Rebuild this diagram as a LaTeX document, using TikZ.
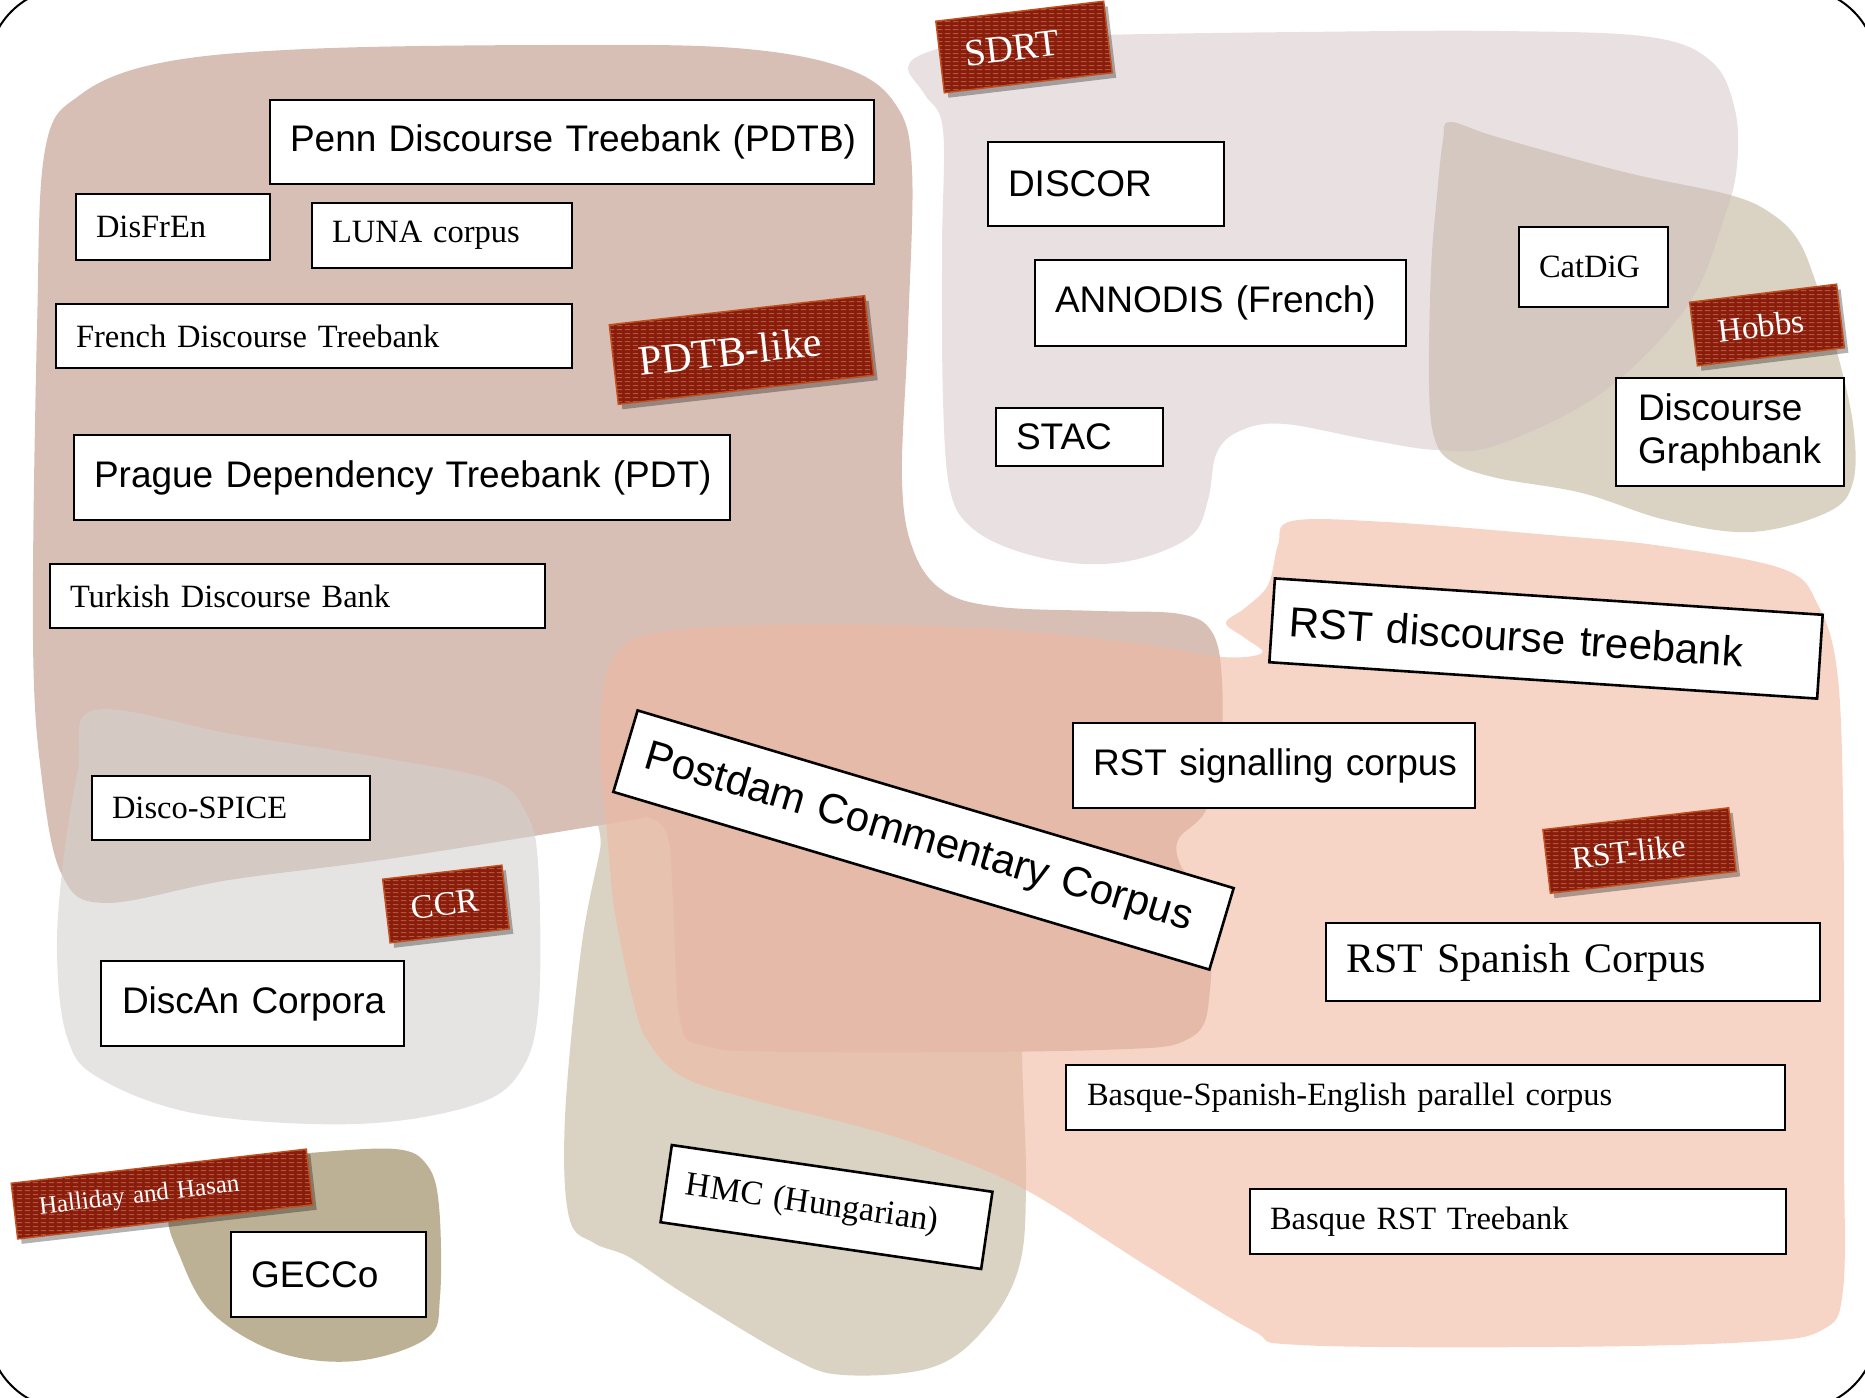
\documentclass[tikz,border=0pt]{standalone}
\usepackage{fontspec}
\setmainfont{Liberation Serif}
\newfontfamily\sansf{Liberation Sans}
\usetikzlibrary{shadows,patterns}
\pgfdeclarepatternformonly{weave}{\pgfqpoint{0pt}{0pt}}{\pgfqpoint{8pt}{3.5pt}}{\pgfqpoint{8pt}{3.5pt}}{%
  \pgfpathrectangle{\pgfqpoint{1pt}{1pt}}{\pgfqpoint{6pt}{1.1pt}}\pgfusepath{fill}}
\definecolor{brownb}{HTML}{D8BFB6}
\definecolor{sdrtc}{HTML}{D1BDBF}
\definecolor{beigec}{HTML}{DAD3C4}
\definecolor{greyc}{HTML}{D3D1CE}
\definecolor{tanc}{HTML}{BCB195}
\definecolor{salmonc}{HTML}{F0B8A0}
\definecolor{tagred}{HTML}{8A1C0C}
\definecolor{tagedge}{HTML}{C0501E}
\definecolor{tagdash}{HTML}{B0563E}
\newcommand\myfs[1]{\fontsize{#1pt}{#1pt}\selectfont}
\tikzset{
  blob/.style={smooth cycle, tension=0.6},
  wbox/.style={draw=black, line width=2.6pt, fill=white, inner ysep=0pt, inner xsep=20pt, align=left},
  sbox/.style={wbox, font=\sansf\myfs{37}},
  rbox/.style={wbox, font=\myfs{32.5}},
  tag/.style={fill=tagred, draw=tagedge, line width=1.5pt, text=white, align=left,
    inner ysep=0pt, inner xsep=25pt,
    drop shadow={shadow xshift=4pt, shadow yshift=-5pt, opacity=0.3, fill=black},
    postaction={pattern=weave, pattern color=tagdash}}
}
\begin{document}
\begin{tikzpicture}[x=1pt,y=-1pt]
\useasboundingbox (0,0) rectangle (1865,1397);
% regions
\fill[beigec] plot[blob] coordinates {(612,790) (800,785) (1000,790) (1020,830) (1022,1050) (1026,1183) (1019,1267) (986,1327) (933,1367) (844,1375) (790,1357) (683,1293) (629,1257) (594,1243) (569,1217) (565,1117) (581,950) (600,850)};
\fill[beigec] plot[blob] coordinates {(1450,122) (1497,137) (1624,172) (1730,195) (1772,214) (1798,240) (1815,280) (1836,348) (1853,424) (1853,482) (1828,512) (1751,532) (1666,520) (1582,493) (1497,478) (1454,463) (1435,440) (1429,386) (1431,271) (1437,195) (1443,140)};
\fill[sdrtc, fill opacity=0.47] plot[blob] coordinates {(943,130) (925,95) (908,68) (928,52) (985,40) (1100,35) (1300,32) (1500,31) (1650,37) (1712,62) (1735,110) (1737,165) (1725,215) (1688,305) (1603,392) (1497,445) (1437,450) (1370,440) (1285,424) (1242,430) (1217,452) (1208,500) (1192,535) (1142,558) (1084,564) (1020,552) (972,528) (950,490) (943,400) (942,250)};
\fill[brownb] plot[blob] coordinates {(45,150) (80,95) (160,63) (306,49) (551,45) (735,48) (845,68) (896,105) (912,170) (908,330) (902,480) (914,552) (945,592) (1000,607) (1100,611) (1180,614) (1212,632) (1222,680) (1220,760) (1205,812) (1178,840) (1182,868) (1207,900) (1210,990) (1190,1038) (1100,1050) (800,1052) (705,1046) (680,1020) (673,900) (668,838) (650,818) (620,822) (395,858) (229,880) (105,903) (62,875) (42,780) (33,640) (37,330)};
\fill[greyc, fill opacity=0.59] plot[blob] coordinates {(95,710) (237,735) (395,760) (494,781) (526,813) (538,863) (539,1000) (522,1069) (474,1105) (356,1124) (198,1114) (99,1078) (67,1037) (57,954) (63,863) (78,770)};
\fill[tanc] plot[blob] coordinates {(180,1175) (250,1158) (308,1153) (395,1149) (427,1165) (439,1206) (440,1297) (427,1338) (356,1361) (277,1352) (210,1311) (178,1252) (168,1215)};
\fill[salmonc, fill opacity=0.6] plot[blob] coordinates {(1226,623) (1245,608) (1268,585) (1278,545) (1292,521) (1386,522) (1550,535) (1662,546) (1783,569) (1818,605) (1837,670) (1843,800) (1844,1000) (1844,1150) (1843,1290) (1822,1330) (1750,1342) (1552,1347) (1300,1345) (1252,1330) (1150,1268) (1026,1190) (933,1150) (861,1127) (754,1100) (683,1077) (647,1040) (633,1000) (622,950) (613,900) (606,822) (600,759) (603,690) (618,652) (660,632) (802,624) (996,629) (1142,644) (1222,657) (1262,653) (1245,638)};
% frame
\draw[line width=2pt, rounded corners=80pt] (-12,-12) rectangle (1877,1409);
% sans boxes
\node[sbox, minimum height=84pt, text width=564pt] (penn) at (572,142) {\mbox{Penn Discourse Treebank (PDTB)}};
\node[sbox, minimum height=85pt, text width=616pt] (prague) at (402,477.5) {\mbox{Prague Dependency Treebank (PDT)}};
\node[sbox, minimum height=84pt, text width=196pt] (discor) at (1106,184) {\mbox{DISCOR}};
\node[sbox, minimum height=86pt, text width=331pt] (annodis) at (1220.5,303) {\mbox{ANNODIS (French)}};
\node[sbox, minimum height=58pt, text width=127pt] (stac) at (1079.5,437) {\mbox{STAC}};
\node[sbox, minimum height=108pt, inner xsep=22pt, text width=184pt, font=\sansf\fontsize{37pt}{43pt}\selectfont] (graph) at (1730,432) {\mbox{Discourse}\\\mbox{Graphbank}};
\node[sbox, minimum height=85pt, text width=362pt] (signal) at (1274,765.5) {\mbox{RST signalling corpus}};
\node[sbox, minimum height=85pt, inner xsep=21pt, text width=261pt] (discan) at (252.5,1003.5) {\mbox{DiscAn Corpora}};
\node[sbox, minimum height=85pt, text width=155pt] (gecco) at (328.5,1274.5) {\mbox{GECCo}};
\node[sbox, minimum height=84pt, inner xsep=17pt, text width=515pt, rotate=-3.8, font=\sansf\myfs{42}] (rstdt) at (1546,638.5) {\mbox{RST discourse treebank}};
\node[sbox, minimum height=85pt, inner xsep=21pt, text width=580pt, rotate=-16.6, font=\sansf\myfs{42}] (pcc) at (923.5,840) {\mbox{Postdam Commentary Corpus}};
% serif boxes
\node[rbox, minimum height=66pt, text width=154pt] (disfren) at (173,227) {\mbox{DisFrEn}};
\node[rbox, minimum height=65pt, text width=220pt] (luna) at (442,235.5) {\mbox{LUNA corpus}};
\node[rbox, minimum height=64pt, text width=476pt] (fdtb) at (314,336) {\mbox{French Discourse Treebank}};
\node[rbox, minimum height=64pt, text width=455pt] (tdb) at (297.5,596) {\mbox{Turkish Discourse Bank}};
\node[rbox, minimum height=64pt, text width=238pt] (spice) at (231,808) {\mbox{Disco-SPICE}};
\node[rbox, minimum height=80pt, text width=109pt] (catdig) at (1593.5,267) {\mbox{CatDiG}};
\node[rbox, minimum height=78pt, text width=454pt, font=\myfs{42}] (rstsp) at (1573,962) {\mbox{RST Spanish Corpus}};
\node[rbox, minimum height=65pt, inner xsep=21pt, text width=677pt] (bse) at (1425.5,1097.5) {\mbox{Basque-Spanish-English parallel corpus}};
\node[rbox, minimum height=65pt, text width=496pt] (brst) at (1518,1221.5) {\mbox{Basque RST Treebank}};
\node[rbox, minimum height=78pt, text width=284pt, rotate=-8.3, font=\myfs{34}] (hmc) at (826.5,1207) {\mbox{HMC (Hungarian)}};
% tags
\node[tag, minimum height=72pt, text width=119pt, rotate=6.8, font=\myfs{38}] (sdrt) at (1024,47) {\mbox{SDRT}};
\node[tag, minimum height=80pt, text width=207pt, rotate=6.5, font=\myfs{42}] (pdtblike) at (741.5,350) {\mbox{PDTB-like}};
\node[tag, minimum height=64pt, text width=98pt, rotate=7, font=\myfs{33}] (hobbs) at (1767,325) {\mbox{Hobbs}};
\node[tag, minimum height=64pt, text width=137pt, rotate=6.7, font=\myfs{32}] (rstlike) at (1639.5,850.5) {\mbox{RST-like}};
\node[tag, minimum height=64pt, text width=70pt, rotate=6.7, font=\myfs{34}] (ccr) at (446,904) {\mbox{CCR}};
\node[tag, minimum height=56pt, text width=247pt, rotate=6.6, font=\myfs{25}] (halliday) at (162,1194) {\mbox{Halliday and Hasan}};
\end{tikzpicture}
\end{document}
